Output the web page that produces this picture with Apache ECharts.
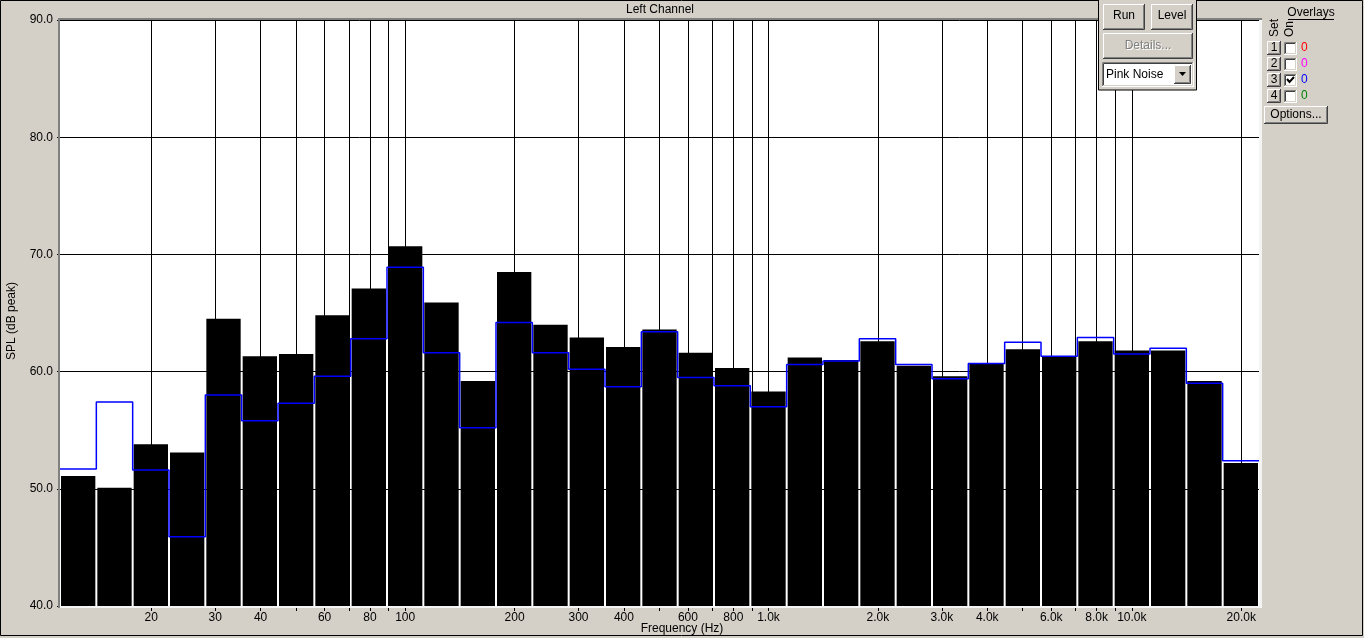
<!DOCTYPE html>
<html><head><meta charset="utf-8">
<script src="https://cdn.jsdelivr.net/npm/echarts@6/dist/echarts.min.js"></script>
<style>html,body{margin:0;padding:0;background:#d4d0c8;overflow:hidden}#c{width:1364px;height:638px;}</style>
</head><body><div id="c"></div>
<script>
// ---- data ----
const bandCenters = [12.5,16,20,25,31.5,40,50,63,80,100,125,160,200,250,315,400,500,630,800,1000,1250,1600,2000,2500,3150,4000,5000,6300,8000,10000,12500,16000,20000];
const splLevels = [51.1,50.1,53.8,53.1,64.5,61.3,61.5,64.8,67.1,70.7,65.9,59.2,68.5,64.0,62.9,62.1,63.6,61.6,60.3,58.3,61.2,61.0,62.6,60.5,59.6,60.7,61.9,61.3,62.6,61.8,61.8,59.2,52.2];
const overlayLevels = [51.7,57.4,51.6,45.9,58.0,55.8,57.3,59.6,62.8,68.9,61.6,55.2,64.2,61.6,60.2,58.7,63.4,59.5,58.8,57.0,60.6,60.9,62.8,60.6,59.4,60.7,62.5,61.3,62.9,61.5,62.0,59.0,52.4];
const yRange = [40, 90];
const gridFreqs = [20,30,40,50,60,70,80,90,100,200,300,400,500,600,700,800,900,1000,2000,3000,4000,5000,6000,7000,8000,9000,10000,20000];
const labelFreqs = [20,30,40,60,80,100,200,300,400,600,800,1000,2000,3000,4000,6000,8000,10000,20000];

const FONT = '"Liberation Sans", Arial, sans-serif';
const BG = '#d4d0c8';

// 1/3-octave (base-10) band edges in log10 space
const bandIndex = f => Math.round(10 * Math.log10(f));
const edgeLo = f => (bandIndex(f) - 0.5) / 10;
const edgeHi = f => (bandIndex(f) + 0.5) / 10;
const barData = bandCenters.map((f, i) => [edgeLo(f), edgeHi(f), splLevels[i]]);
const lineData = bandCenters.map((f, i) => [edgeLo(f), overlayLevels[i]]);
lineData.push([edgeHi(bandCenters[bandCenters.length - 1]), overlayLevels[overlayLevels.length - 1]]);

const fmtFreq = v => {
  const f = Math.round(Math.pow(10, v));
  return f >= 1000 ? (f / 1000).toFixed(1) + 'k' : String(f);
};

// ---- UI chrome helpers ----
function bevel(x, y, w, h, sunken, fill) {
  const out = [{type:'rect', shape:{x, y, width:w, height:h}, style:{fill: fill || BG}}];
  const tl1 = sunken ? '#808080' : '#ffffff';
  const tl2 = sunken ? '#404040' : BG;
  const br1 = sunken ? '#ffffff' : '#404040';
  const br2 = sunken ? BG : '#808080';
  out.push({type:'polyline', shape:{points:[[x+0.5, y+h-1],[x+0.5, y+0.5],[x+w-1, y+0.5]]}, style:{stroke:tl1, fill:null, lineWidth:1}});
  out.push({type:'polyline', shape:{points:[[x+1.5, y+h-2],[x+1.5, y+1.5],[x+w-2, y+1.5]]}, style:{stroke:tl2, fill:null, lineWidth:1}});
  out.push({type:'polyline', shape:{points:[[x, y+h-0.5],[x+w-0.5, y+h-0.5],[x+w-0.5, y]]}, style:{stroke:br1, fill:null, lineWidth:1}});
  out.push({type:'polyline', shape:{points:[[x+1, y+h-1.5],[x+w-1.5, y+h-1.5],[x+w-1.5, y+1]]}, style:{stroke:br2, fill:null, lineWidth:1}});
  return out;
}
function txt(text, x, y, opts) {
  opts = opts || {};
  return {type:'text', x, y, rotation: opts.rotation || 0,
    style:{text, font:(opts.size || 12) + 'px ' + FONT, fill: opts.color || '#000',
      align: opts.align || 'center', verticalAlign:'middle'}};
}

const ui = [];
// window frame
ui.push({type:'rect', shape:{x:0.5, y:0.5, width:1362, height:635}, style:{fill:null, stroke:'#000', lineWidth:1}});
// plot frame: dark top/left, light bottom/right
ui.push({type:'rect', shape:{x:58, y:18, width:1204, height:2}, style:{fill:'#808080'}});
ui.push({type:'rect', shape:{x:58, y:18, width:2, height:590}, style:{fill:'#808080'}});
ui.push({type:'rect', shape:{x:60, y:606, width:1202, height:2}, style:{fill:'#f4f4f4'}});
ui.push({type:'rect', shape:{x:1259, y:20, width:3, height:588}, style:{fill:'#f4f4f4'}});
// texts
ui.push(txt('Left Channel', 660, 10));
ui.push(txt('SPL (dB peak)', 12, 321, {rotation: Math.PI / 2}));
ui.push(txt('Frequency (Hz)', 682, 629));
// control panel
ui.push({type:'rect', shape:{x:1098.5, y:-2, width:98, height:92}, style:{fill:BG, stroke:'#000', lineWidth:1}});
ui.push(...bevel(1103, 4, 42, 26, false));
ui.push(txt('Run', 1124, 16));
ui.push(...bevel(1151, 4, 42, 26, false));
ui.push(txt('Level', 1172, 16));
ui.push(...bevel(1103, 33, 90, 26, false));
ui.push(txt('Details...', 1149, 47, {color:'#ffffff'}));
ui.push(txt('Details...', 1148, 46, {color:'#808080'}));
ui.push(...bevel(1102, 62, 92, 25, true, '#ffffff'));
ui.push(txt('Pink Noise', 1106, 75, {align:'left'}));
ui.push(...bevel(1174, 65, 17, 19, false));
ui.push({type:'polygon', shape:{points:[[1179, 72],[1186, 72],[1182.5, 76]]}, style:{fill:'#000'}});
// overlays panel
ui.push(txt('Overlays', 1311, 13));
ui.push({type:'line', shape:{x1:1288, y1:19.5, x2:1334, y2:19.5}, style:{stroke:'#000', lineWidth:1}});
ui.push(txt('Set', 1275, 28, {rotation: Math.PI / 2}));
ui.push(txt('On', 1290, 29, {rotation: Math.PI / 2}));
const rowColors = ['#ff0000', '#ff00ff', '#0000ff', '#008000'];
rowColors.forEach((c, i) => {
  const cy = 48 + i * 16;
  ui.push(...bevel(1267, cy - 7, 14, 14, false));
  ui.push(txt(String(i + 1), 1274, cy, {size:12}));
  ui.push(...bevel(1284, cy - 6, 13, 13, true, '#ffffff'));
  if (i === 2) {
    ui.push({type:'polyline', shape:{points:[[1287, cy - 1],[1289.5, cy + 2],[1294, cy - 3]]}, style:{stroke:'#000', lineWidth:2, fill:null}});
  }
  ui.push(txt('0', 1301, cy, {color:c, align:'left'}));
});
ui.push(...bevel(1264, 106, 64, 18, false));
ui.push(txt('Options...', 1296, 115));
ui.forEach(e => { e.z = 100; });

// ---- chart ----
const chart = echarts.init(document.getElementById('c'), null, {renderer:'canvas'});
chart.setOption({
  animation: false,
  backgroundColor: BG,
  grid: {left:60, top:20, width:1199, height:586, show:true, backgroundColor:'#ffffff', borderWidth:0},
  xAxis: {
    type:'value', min: edgeLo(bandCenters[0]), max: edgeHi(bandCenters[bandCenters.length - 1]),
    axisLine:{show:false},
    axisTick:{show:true, length:5, inside:false, lineStyle:{color:'#000', width:1},
      customValues: gridFreqs.map(f => Math.log10(f))},
    axisLabel:{show:true, margin:6, color:'#000', fontSize:12, fontFamily:FONT,
      customValues: labelFreqs.map(f => Math.log10(f)), formatter: fmtFreq},
    splitLine:{show:true, lineStyle:{color:'#000', width:1}}
  },
  yAxis: {
    type:'value', min: yRange[0], max: yRange[1], interval:10,
    axisLine:{show:false},
    axisTick:{show:true, length:3, lineStyle:{color:'#000'}},
    axisLabel:{margin:7, color:'#000', fontSize:12, fontFamily:FONT, formatter: v => v.toFixed(1)},
    splitLine:{show:true, lineStyle:{color:'#000', width:1}}
  },
  series: [
    {
      type:'custom', name:'SPL', data: barData, encode:{x:[0, 1], y:2}, clip:true, z:2,
      renderItem: (params, api) => {
        const p0 = api.coord([api.value(0), api.value(2)]);
        const p1 = api.coord([api.value(1), yRange[0]]);
        return {type:'rect', shape:{x:p0[0] + 1, y:p0[1], width:p1[0] - p0[0] - 2, height:p1[1] - p0[1]},
          style:{fill:'#000'}};
      }
    },
    {
      type:'line', name:'Overlay 3', data: lineData, step:'end', showSymbol:false, symbol:'none',
      lineStyle:{color:'#0000ff', width:1.5}, z:3, clip:true
    }
  ],
  graphic: {elements: ui}
});
</script></body></html>
